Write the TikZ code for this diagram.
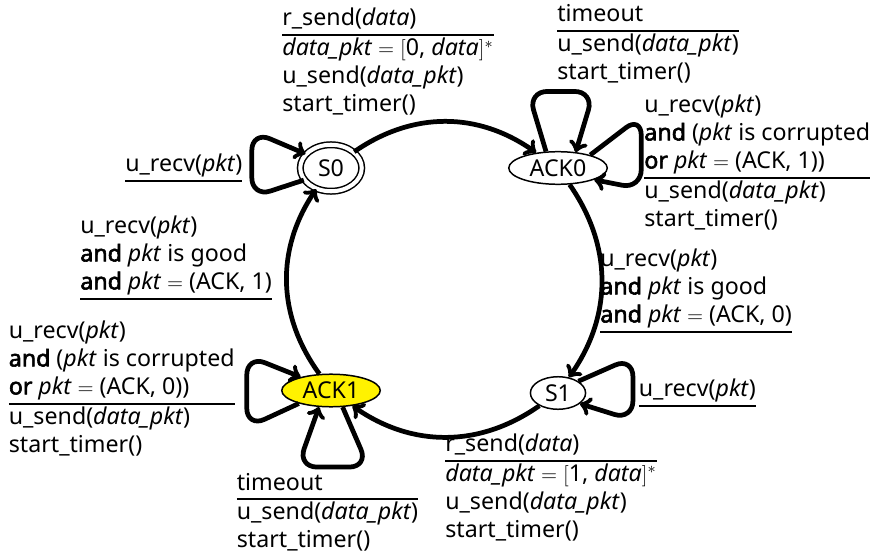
\documentclass[tikz,border=0pt]{standalone}
\usepackage{fontspec}
\setmainfont{Noto Sans}[BoldFont={Noto Sans}, BoldFeatures={FakeBold=2.5}]
\usepackage{amsmath}
\usetikzlibrary{shapes.geometric}
\setlength{\arrayrulewidth}{1.1pt}
\newcommand{\pkt}{\textit{pkt}}
\newcommand{\dpkt}{\textit{data\_pkt}}

\begin{document}
\begin{tikzpicture}[font=\fontsize{13.2}{15.9}\selectfont,
		state/.style={ellipse, draw, line width=0.85pt, inner xsep=0.13cm, inner ysep=0.06cm},
		trans/.style={->, line width=2.7pt},
		selfloop/.style={trans, rounded corners=11pt},
		lbl/.style={anchor=base west, inner sep=0pt}]
			\useasboundingbox (0,0) rectangle (17.62,11.08);
			
			\node[state, double, double distance=2.3pt, minimum width=1.23cm, minimum height=0.93cm] (S0) at (6.62,7.72) {S0};
			\node[state] (ACK0) at (11.16,7.72) {ACK0};
			\node[state] (S1) at (11.16,3.22) {S1};
			\node[state, fill=yellow] (ACK1) at (6.62,3.27) {ACK1};
			
			\draw[trans] (S0) to[bend left=35] (ACK0);
			\draw[trans] (ACK0) to[bend left=35] (S1);
			\draw[trans] (S1) to[bend left=35] (ACK1);
			\draw[trans] (ACK1) to[bend left=35] (S0);
			
			\draw[selfloop] (S0.204) -- ++(-1.04,-0.34) -- ++(0,1.32) -- (S0.151);
			\draw[selfloop] (ACK0.126) -- ++(-0.36,1.20) -- ++(1.32,0) -- (ACK0.42);
			\draw[selfloop] (ACK0.22) -- ++(1.02,0.78) -- ++(0,-1.46) -- (ACK0.-18);
			\draw[selfloop] (S1.30) -- ++(1.09,0.48) -- ++(0,-1.26) -- (S1.-26);
			\draw[selfloop] (ACK1.202) -- ++(-1.04,-0.48) -- ++(0,1.44) -- (ACK1.156);
			\draw[selfloop] (ACK1.-55) -- ++(0.52,-1.20) -- ++(-1.42,0) -- (ACK1.-126);
			
			\node[lbl] (l-s0-ack0) at (5.64,10.56) {\begin{tabular}[t]{@{}l@{}}
				r\_send(\textit{data})\\ \hline
				\dpkt${}={}[$0, \textit{data}$]^*$\\
				u\_send(\dpkt)\\
				start\_timer()
			\end{tabular}};
			\node[lbl] (l-ack0-top) at (11.14,10.64) {\begin{tabular}[t]{@{}l@{}}
				timeout\\ \hline
				u\_send(\dpkt)\\
				start\_timer()
			\end{tabular}};
			\node[lbl] (l-ack0-right) at (12.88,8.83) {\begin{tabular}[t]{@{}l@{}}
				u\_recv(\pkt)\\
				\textbf{and} (\pkt{} is corrupted\\
				\textbf{or} \pkt${}={}$(ACK, 1))\\ \hline
				u\_send(\dpkt)\\
				start\_timer()
			\end{tabular}};
			\node[lbl] (l-ack0-s1) at (12.00,5.75) {\begin{tabular}[t]{@{}l@{}}
				u\_recv(\pkt)\\
				\textbf{and} \pkt{} is good\\
				\textbf{and} \pkt${}={}$(ACK, 0)\\ \hline
			\end{tabular}};
			\node[lbl] (l-s1) at (12.77,3.15) {\begin{tabular}[t]{@{}l@{}}
				u\_recv(\pkt)\\ \hline
			\end{tabular}};
			\node[lbl] (l-s1-ack1) at (8.90,2.05) {\begin{tabular}[t]{@{}l@{}}
				r\_send(\textit{data})\\ \hline
				\dpkt${}={}[$1, \textit{data}$]^*$\\
				u\_send(\dpkt)\\
				start\_timer()
			\end{tabular}};
			\node[lbl] (l-ack1-bottom) at (4.73,1.28) {\begin{tabular}[t]{@{}l@{}}
				timeout\\ \hline
				u\_send(\dpkt)\\
				start\_timer()
			\end{tabular}};
			\node[lbl] (l-ack1-left) at (0.17,4.31) {\begin{tabular}[t]{@{}l@{}}
				u\_recv(\pkt)\\
				\textbf{and} (\pkt{} is corrupted\\
				\textbf{or} \pkt${}={}$(ACK, 0))\\ \hline
				u\_send(\dpkt)\\
				start\_timer()
			\end{tabular}};
			\node[lbl] (l-ack1-s0) at (1.60,6.41) {\begin{tabular}[t]{@{}l@{}}
				u\_recv(\pkt)\\
				\textbf{and} \pkt{} is good\\
				\textbf{and} \pkt${}={}$(ACK, 1)\\ \hline
			\end{tabular}};
			\node[lbl] (l-s0) at (2.50,7.65) {\begin{tabular}[t]{@{}l@{}}
				u\_recv(\pkt)\\ \hline
			\end{tabular}};
		\end{tikzpicture}
\end{document}
